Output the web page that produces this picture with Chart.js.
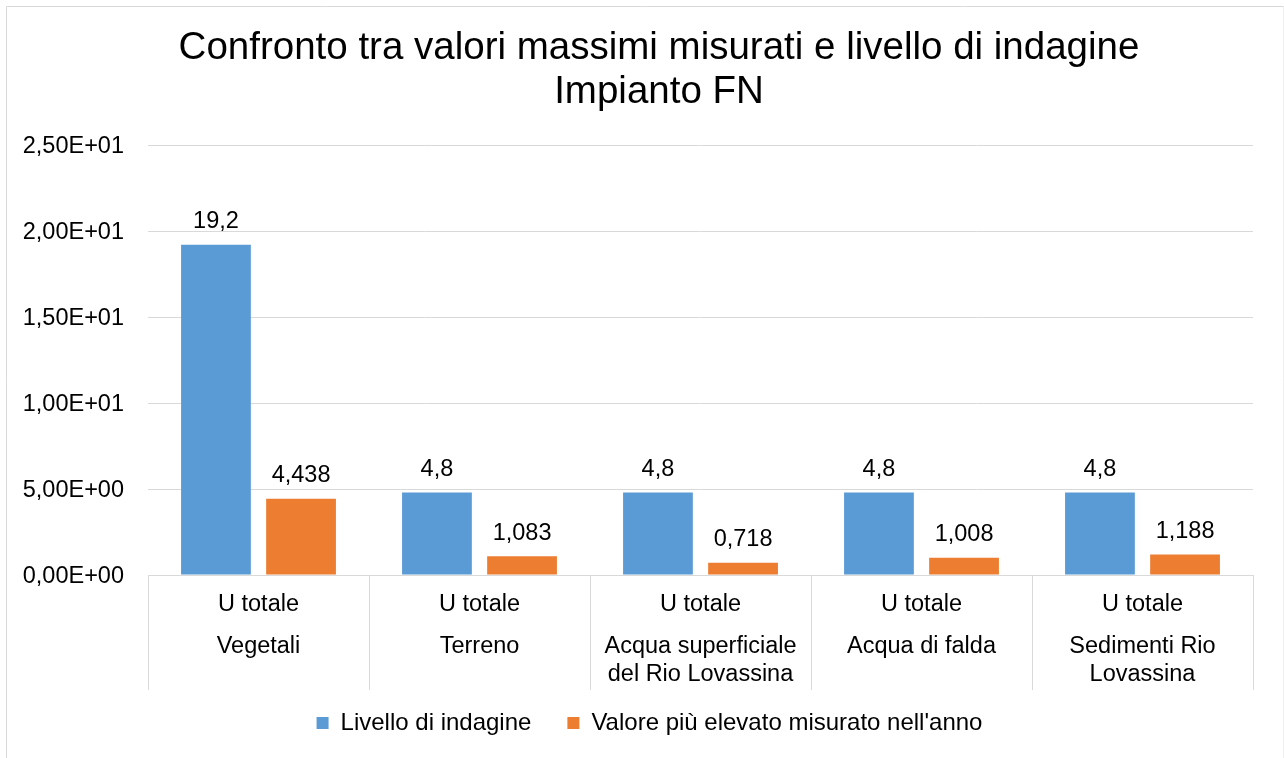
<!DOCTYPE html>
<html>
<head>
<meta charset="utf-8">
<script src="https://cdn.jsdelivr.net/npm/chart.js@4"></script>
<style>
  html, body { margin: 0; padding: 0; background: #fff; }
  #wrap { width: 1284px; height: 758px; }
</style>
</head>
<body>
<div id="wrap"><canvas id="grafico" width="1284" height="758"></canvas></div>
<script>
//Dati del grafico
const titolo = ['Confronto tra valori massimi misurati e livello di indagine', 'Impianto FN'];
const analita = 'U totale';
const matrici = ['Vegetali', 'Terreno', ['Acqua superficiale', 'del Rio Lovassina'], 'Acqua di falda', ['Sedimenti Rio', 'Lovassina']];
const livelloIndagine = [19.2, 4.8, 4.8, 4.8, 4.8];
const valoreMassimo = [4.438, 1.083, 0.718, 1.008, 1.188];
const yTicks = ['0,00E+00', '5,00E+00', '1,00E+01', '1,50E+01', '2,00E+01', '2,50E+01'];

const FONT = '"Liberation Sans", Arial, sans-serif';
const GRIGIO = '#d9d9d9';

//Cornice esterna e titolo
const cornice = {
  id: 'cornice',
  beforeDraw(chart) {
    const ctx = chart.ctx;
    ctx.save();
    ctx.strokeStyle = GRIGIO;
    ctx.lineWidth = 1;
    ctx.beginPath();
    ctx.moveTo(6.5, 758);
    ctx.lineTo(6.5, 6.5);
    ctx.lineTo(1284, 6.5);
    ctx.stroke();
    ctx.strokeStyle = '#f0f0f0';
    ctx.beginPath();
    ctx.moveTo(1283.5, 6.5);
    ctx.lineTo(1283.5, 758);
    ctx.stroke();
    ctx.fillStyle = '#000';
    ctx.font = '38.5px ' + FONT;
    ctx.textAlign = 'center';
    ctx.textBaseline = 'middle';
    titolo.forEach((t, i) => ctx.fillText(t, 659, 48 + i * 44));
    ctx.restore();
  }
};

//Etichette asse X su due livelli e separatori
const asseCategorie = {
  id: 'asseCategorie',
  afterDraw(chart) {
    const ctx = chart.ctx;
    const x = chart.scales.x;
    const top = chart.chartArea.bottom;
    const passo = (x.right - x.left) / matrici.length;
    ctx.save();
    ctx.strokeStyle = GRIGIO;
    ctx.lineWidth = 1;
    for (let i = 0; i <= matrici.length; i++) {
      const px = Math.round(x.left + i * passo) + 0.5;
      ctx.beginPath();
      ctx.moveTo(px, top);
      ctx.lineTo(px, top + 115);
      ctx.stroke();
    }
    ctx.fillStyle = '#000';
    ctx.font = '23.5px ' + FONT;
    ctx.textAlign = 'center';
    ctx.textBaseline = 'middle';
    matrici.forEach((m, i) => {
      const cx = x.getPixelForValue(i);
      ctx.fillText(analita, cx, top + 30);
      const righe = Array.isArray(m) ? m : [m];
      righe.forEach((r, j) => ctx.fillText(r, cx, top + 72 + j * 28));
    });
    ctx.restore();
  }
};

//Valori sopra le barre
const etichetteValori = {
  id: 'etichetteValori',
  afterDatasetsDraw(chart) {
    const ctx = chart.ctx;
    ctx.save();
    ctx.fillStyle = '#000';
    ctx.font = '23.5px ' + FONT;
    ctx.textAlign = 'center';
    ctx.textBaseline = 'middle';
    chart.data.datasets.forEach((ds, d) => {
      chart.getDatasetMeta(d).data.forEach((bar, i) => {
        ctx.fillText(String(ds.data[i]).replace('.', ','), bar.x, bar.y - 23);
      });
    });
    ctx.restore();
  }
};

const grafico = new Chart(document.getElementById('grafico'), {
  type: 'bar',
  data: {
    labels: matrici,
    datasets: [
      {
        label: 'Livello di indagine',
        data: livelloIndagine,
        backgroundColor: '#5b9bd5',
        categoryPercentage: 0.77,
        barPercentage: 0.82
      },
      {
        label: "Valore più elevato misurato nell'anno",
        data: valoreMassimo,
        backgroundColor: '#ed7d31',
        categoryPercentage: 0.77,
        barPercentage: 0.82
      }
    ]
  },
  options: {
    responsive: false,
    animation: false,
    layout: { padding: { left: 20, right: 5, top: 145, bottom: 13 } },
    plugins: {
      title: { display: false },
      legend: {
        position: 'bottom',
        labels: {
          color: '#000',
          font: { family: FONT, size: 24 },
          boxWidth: 12,
          boxHeight: 12,
          padding: 36
        }
      },
      tooltip: { enabled: false }
    },
    scales: {
      x: {
        grid: { display: false },
        border: { color: GRIGIO },
        ticks: { display: false },
        afterFit(scale) { scale.height = 100; }
      },
      y: {
        min: 0,
        max: 25,
        ticks: {
          stepSize: 5,
          color: '#000',
          padding: 24,
          labelOffset: 2,
          font: { family: FONT, size: 23.5 },
          callback: (v, i) => yTicks[i]
        },
        grid: { color: GRIGIO, drawTicks: false },
        border: { display: false },
        afterFit(scale) { scale.width = 128; }
      },
      //asse vuoto a destra, solo per lo spazio
      margine: {
        position: 'right',
        display: true,
        grid: { display: false },
        border: { display: false },
        ticks: { display: false },
        afterFit(scale) { scale.width = 26; }
      }
    }
  },
  plugins: [cornice, asseCategorie, etichetteValori]
});
</script>
</body>
</html>
